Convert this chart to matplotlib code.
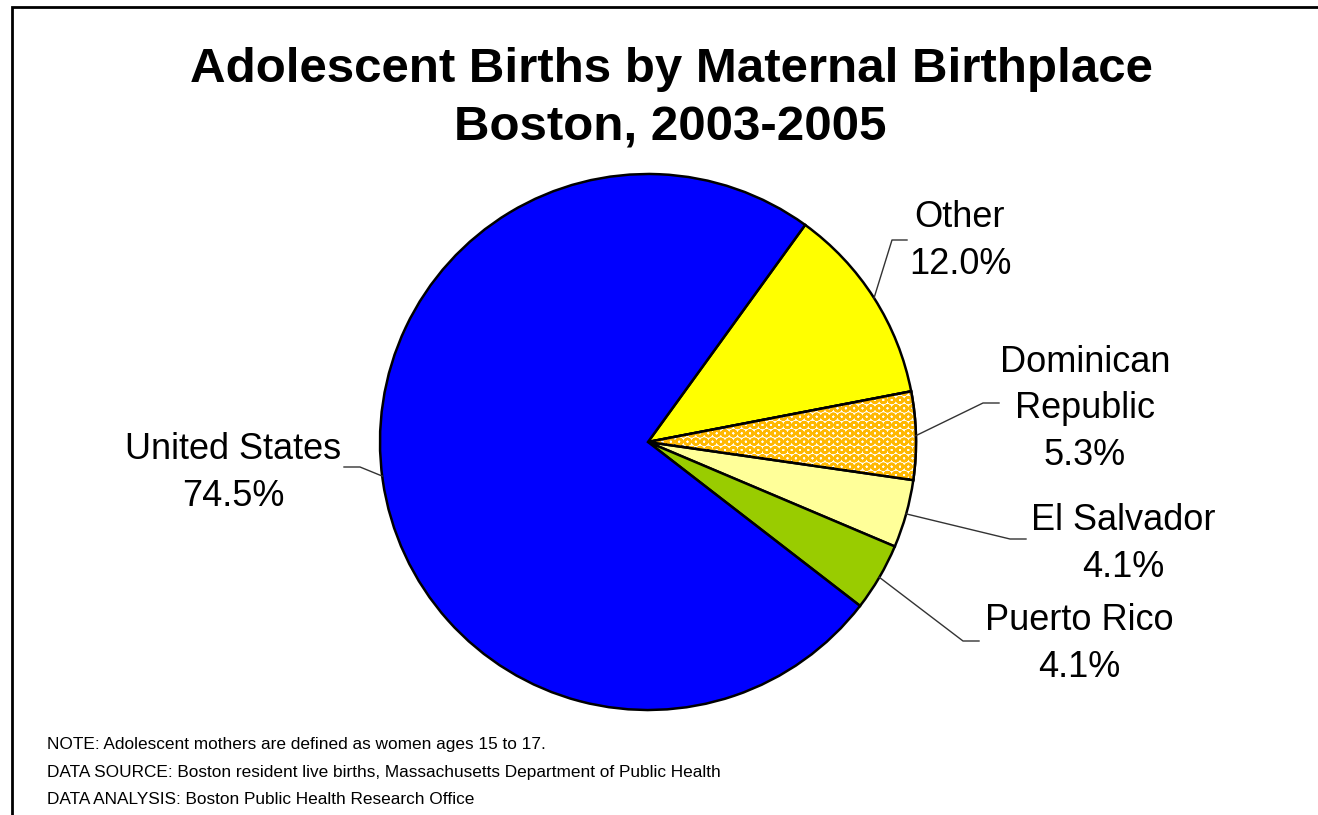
import matplotlib.pyplot as plt
import matplotlib.patches as mpatches
import numpy as np

plt.rcParams['font.family'] = ['Liberation Sans', 'DejaVu Sans']
plt.rcParams['hatch.linewidth'] = 1.8

# data
places = ["Other", "Dominican Republic", "El Salvador", "Puerto Rico", "United States"]
shares = [12.0, 5.3, 4.1, 4.1, 74.5]
label_text = ["Other\n12.0%", "Dominican\nRepublic\n5.3%", "El Salvador\n4.1%",
              "Puerto Rico\n4.1%", "United States\n74.5%"]
colors = ["#FFFF00", "#FFFFFF", "#FFFF99", "#99CC00", "#0000FF"]

W, H = 1318, 815
fig = plt.figure(figsize=(W / 100, H / 100), dpi=100)
ax = fig.add_axes([0, 0, 1, 1])

cx, cy, R = 648, H - 442, 268
wedges, _ = ax.pie(shares, colors=colors, startangle=54.1, counterclock=False,
                   center=(cx, cy), radius=R,
                   wedgeprops=dict(edgecolor="black", linewidth=1.8))
ax.set_xlim(0, W)
ax.set_ylim(0, H)
ax.set_aspect('auto')
ax.axis('off')

# hatched slice (Dominican Republic): orange dots on white
dw = wedges[1]
ax.add_patch(mpatches.Wedge(dw.center, dw.r, dw.theta1, dw.theta2,
                            facecolor="none", edgecolor="#FFB800",
                            hatch="OO", linewidth=0, zorder=2))
ax.add_patch(mpatches.Wedge(dw.center, dw.r, dw.theta1, dw.theta2,
                            fill=False, edgecolor="black", linewidth=1.8, zorder=3))

# labels: text centre, elbow, end of leader (pixels from top-left)
text_pos = [(960, 241), (1085, 409), (1123, 544), (1079, 644), (233, 473)]
elbows = [(892, 240), (983, 403), (1010, 539), (963, 641), (360, 467)]
ends = [(907, 240), (999, 403), (1026, 539), (979, 641), (344, 467)]
anchor_ang = [None, None, None, None, 187.3]

for i, w in enumerate(wedges):
    ang = anchor_ang[i] if anchor_ang[i] is not None else (w.theta1 + w.theta2) / 2
    ex = cx + R * np.cos(np.radians(ang))
    ey = cy + R * np.sin(np.radians(ang))
    ax.plot([ex, elbows[i][0], ends[i][0]], [ey, H - elbows[i][1], H - ends[i][1]],
            color="#333333", linewidth=1.0, zorder=4)
    ax.text(text_pos[i][0], H - text_pos[i][1], label_text[i], ha="center", va="center",
            multialignment="center", fontsize=26, linespacing=1.42)

# title
ax.text(671, H - 70, "Adolescent Births by Maternal Birthplace", ha="center", va="center",
        fontsize=35.5, fontweight="bold")
ax.text(670, H - 128, "Boston, 2003-2005", ha="center", va="center",
        fontsize=35.5, fontweight="bold")

# notes
notes = ["NOTE: Adolescent mothers are defined as women ages 15 to 17.",
         "DATA SOURCE: Boston resident live births, Massachusetts Department of Public Health",
         "DATA ANALYSIS: Boston Public Health Research Office"]
for k, s in enumerate(notes):
    ax.text(47, H - (745 + 27.5 * k), s, ha="left", va="center", fontsize=12.4)

# frame around chart area
ax.add_patch(mpatches.Rectangle((12, -20), W + 20, H - 7 + 20, fill=False,
                                edgecolor="black", linewidth=2, clip_on=False))

fig.savefig("out.png", dpi=100)
